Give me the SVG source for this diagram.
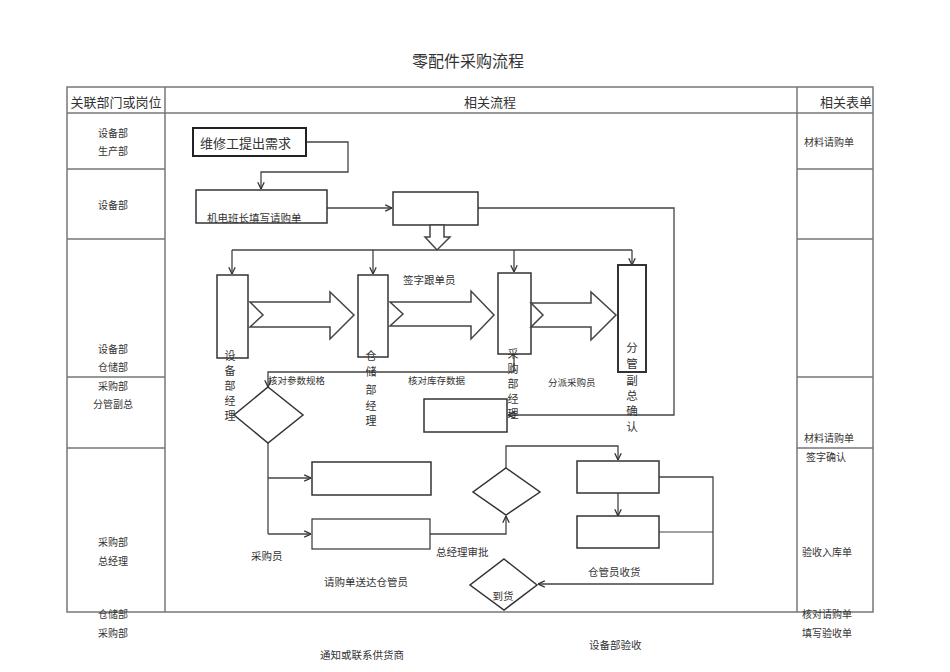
<svg xmlns="http://www.w3.org/2000/svg" width="950" height="672" viewBox="0 0 950 672">
<defs>
<marker id="arr" viewBox="0 0 10 10" refX="9.5" refY="5" markerWidth="8" markerHeight="8" markerUnits="userSpaceOnUse" orient="auto">
<path d="M1,1 L9.5,5 L1,9" fill="none" stroke="#333" stroke-width="1.6"/>
</marker>
</defs>
<style>
text{font-family:"Noto Sans CJK SC","Liberation Serif",serif;fill:#333;dominant-baseline:central}
.grid{stroke:#777;stroke-width:1.5;fill:none}
.box{fill:#fff;stroke:#333;stroke-width:1.5}
.thick{fill:#fff;stroke:#222;stroke-width:2}
.dia{fill:#fff;stroke:#333;stroke-width:1.5}
.blk{fill:#fff;stroke:#444;stroke-width:1.5;stroke-linejoin:miter}
.con{fill:none;stroke:#444;stroke-width:1.3}
.conA{fill:none;stroke:#444;stroke-width:1.3;marker-end:url(#arr)}
.s10{font-size:10px}
.s9{font-size:9.5px}
.s11{font-size:10.5px}
.s12{font-size:11px}
.s13{font-size:13px}
.mid{text-anchor:middle}
</style>
<rect width="950" height="672" fill="#fff"/>

<g id="title"><text x="468" y="60" class="mid" style="font-size:16px">零配件采购流程</text></g>

<g id="table">
<rect x="67" y="87" width="806" height="525" class="grid"/>
<line x1="67" y1="113" x2="873" y2="113" class="grid"/>
<line x1="165" y1="87" x2="165" y2="612" class="grid"/>
<line x1="797" y1="87" x2="797" y2="612" class="grid"/>
<path d="M67,169H165M67,239H165M67,377H165M67,448H165" class="grid"/>
<path d="M797,169H873M797,239H873M797,377H873M797,448H873" class="grid"/>
<text x="116" y="101" class="mid s13">关联部门或岗位</text>
<text x="490" y="101" class="mid s13">相关流程</text>
<text x="846" y="101" class="mid s13">相关表单</text>
</g>

<g id="depts">
<text x="113" y="132" class="mid s10">设备部</text>
<text x="113" y="150" class="mid s10">生产部</text>
<text x="113" y="204" class="mid s10">设备部</text>
<text x="113" y="348" class="mid s10">设备部</text>
<text x="113" y="366" class="mid s10">仓储部</text>
<text x="113" y="385" class="mid s10">采购部</text>
<text x="113" y="403" class="mid s10">分管副总</text>
<text x="113" y="541" class="mid s10">采购部</text>
<text x="113" y="560" class="mid s10">总经理</text>
<text x="113" y="613" class="mid s10">仓储部</text>
<text x="113" y="632" class="mid s10">采购部</text>
</g>

<g id="forms">
<text x="804" y="141" class="s10">材料请购单</text>
<text x="804" y="437" class="s10">材料请购单</text>
<text x="806" y="456" class="s10">签字确认</text>
<text x="802" y="551" class="s10">验收入库单</text>
<text x="802" y="613" class="s10">核对请购单</text>
<text x="802" y="632" class="s10">填写验收单</text>
</g>

<g id="connectors">
<path d="M306,142H348V172H261V189" class="conA"/>
<path d="M327,208H392" class="conA"/>
<path d="M478,208H674V415H508" class="conA"/>
<path d="M232,250H632" class="con"/>
<path d="M232,250V274" class="conA"/>
<path d="M373,250V274" class="conA"/>
<path d="M514,250V272" class="conA"/>
<path d="M632,250V265" class="conA"/>
<path d="M514,355V372H268V387" class="conA"/>
<path d="M268,443V534" class="con"/>
<path d="M268,478H311" class="conA"/>
<path d="M268,534H311" class="conA"/>
<path d="M430,534H506V516" class="conA"/>
<path d="M506,468V446H618V460" class="conA"/>
<path d="M618,493V516" class="conA"/>
<path d="M659,477H713V584H538" class="conA"/>
<path d="M659,532H713" class="con" style="stroke-width:1"/>
</g>

<g id="n-need"><rect x="193" y="128" width="113" height="28" class="thick"/><text x="200" y="142" class="s13">维修工提出需求</text></g>
<g id="n-fill"><rect x="196" y="190" width="131" height="33" class="box"/><text x="207" y="217" class="s11">机电班长填写请购单</text></g>
<g id="n-review"><rect x="393" y="192" width="85" height="33" class="box"/>
<path d="M430,225V237H425L437,250L450,237H444V225Z" class="blk"/></g>

<g id="n-check"><path d="M268,387L303,415L268,443L234,415Z" class="dia"/></g>
<g id="n-assign"><rect x="424" y="399" width="83" height="33" class="box"/></g>

<g id="n-devmgr"><rect x="217" y="275" width="31" height="83" class="box"/>
<text class="mid s12"><tspan x="230" y="355">设</tspan><tspan x="230" y="370">备</tspan><tspan x="230" y="385">部</tspan><tspan x="230" y="400">经</tspan><tspan x="230" y="415">理</tspan></text></g>
<g id="n-whmgr"><rect x="358" y="275" width="30" height="82" class="box"/>
<text class="mid s12"><tspan x="371" y="355">仓</tspan><tspan x="371" y="371">储</tspan><tspan x="371" y="389">部</tspan><tspan x="371" y="405">经</tspan><tspan x="371" y="420">理</tspan></text></g>
<g id="n-pmgr"><rect x="498" y="273" width="33" height="81" class="box"/>
<text class="mid s12"><tspan x="513" y="353">采</tspan><tspan x="513" y="368">购</tspan><tspan x="513" y="383">部</tspan><tspan x="513" y="398">经</tspan><tspan x="513" y="413">理</tspan></text></g>
<g id="n-vp"><rect x="618" y="265" width="28" height="107" class="box" style="stroke-width:2"/>
<text class="mid" style="font-size:11.5px"><tspan x="632" y="347">分</tspan><tspan x="632" y="363">管</tspan><tspan x="632" y="380">副</tspan><tspan x="632" y="395">总</tspan><tspan x="632" y="410">确</tspan><tspan x="632" y="426">认</tspan></text></g>

<g id="flow-arrows">
<path d="M250,302H330V292L354,315L330,339V327H250L263,315Z" class="blk"/>
<path d="M390,302H471V291L494,315L471,339V326H390L403,314Z" class="blk"/>
<path d="M531,303H591V292L616,315L591,340V327H531L543,315Z" class="blk"/>
</g>

<g id="labels">
<text x="403" y="279" class="s11">签字跟单员</text>
<text x="268" y="380" class="s9">核对参数规格</text>
<text x="408" y="380" class="s9">核对库存数据</text>
<text x="548" y="382" class="s9">分派采购员</text>
<text x="251" y="555" class="s11">采购员</text>
<text x="436" y="551" class="s11">总经理审批</text>
<text x="324" y="581" class="s11">请购单送达仓管员</text>
<text x="320" y="654" class="s11">通知或联系供货商</text>
<text x="588" y="571" class="s11">仓管员收货</text>
<text x="589" y="644" class="s11">设备部验收</text>
</g>

<g id="n-boxA"><rect x="312" y="462" width="119" height="33" class="box"/></g>
<g id="n-boxB"><rect x="312" y="519" width="118" height="30" class="box" style="stroke-width:1.2"/></g>
<g id="n-approve"><path d="M506,468L540,492L506,515L473,492Z" class="dia"/></g>
<g id="n-boxC"><rect x="577" y="461" width="82" height="32" class="box"/></g>
<g id="n-boxD"><rect x="577" y="516" width="82" height="32" class="box"/></g>
<g id="n-arrive"><path d="M504,559L537,585L504,610L470,585Z" class="dia"/><text x="503" y="595" class="mid s11">到货</text></g>
</svg>
